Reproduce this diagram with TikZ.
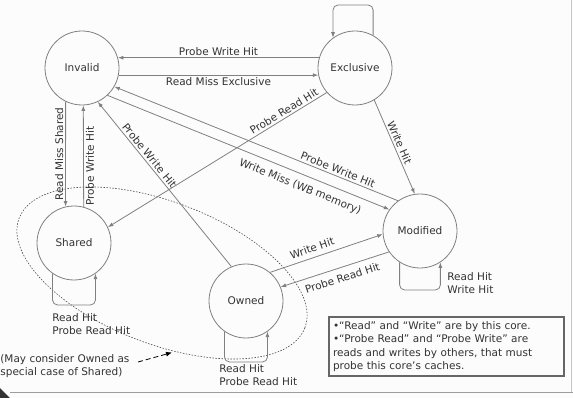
\documentclass[tikz,border=0pt]{standalone}
\usepackage{fontspec}
\setmainfont{DejaVu Sans}
\usepackage{xcolor}
\usepackage{tikz}
\usetikzlibrary{arrows.meta}

\definecolor{ink}{RGB}{51,51,51}
\definecolor{wire}{RGB}{128,128,128}
\definecolor{paper}{RGB}{252,252,252}

\begin{document}
\begin{tikzpicture}[x=1pt, y=-1pt, line width=0.8pt,
    font=\fontsize{10.5}{13}\selectfont, text=ink,
    cachestate/.style={circle, draw=wire, minimum size=74pt, inner sep=0pt},
    transit/.style={draw=wire, -{Latex[length=5.5pt, width=4pt]}},
    selfloop/.style={transit, rounded corners=5pt},
    lbl/.style={inner sep=2pt}]
  \fill[paper] (0,0) rectangle (573,398);
  \useasboundingbox (0,0) rectangle (573,398);
  \draw[black!22] (571.5,0) -- (571.5,392);
  \draw[black!38, line width=1.6pt] (10,392.5) -- (573,392.5);
  \fill[ink] (0,388) -- (10,398) -- (0,398) -- cycle;

  \coordinate (excloop) at (355,5);
  \coordinate (shrloop) at (74,305);
  \coordinate (ownloop) at (246,362);
  \coordinate (modloop) at (420,290);
  \coordinate (tail) at (138,362);
  \coordinate (tip) at (172,352.5);

  \node[cachestate] (inv) at (82,68) {Invalid};
  \node[cachestate] (exc) at (355,68) {Exclusive};
  \node[cachestate] (shr) at (74,243) {Shared};
  \node[cachestate] (own) at (246,301) {Owned};
  \node[cachestate] (mod) at (420,231) {Modified};

  \draw[black!70, line width=0.6pt, dash pattern=on 1.5pt off 1.5pt,
    rotate around={-21:(162,273)}] (162,273) ellipse [x radius=153, y radius=71];

  \draw[transit] (exc.164) -- node[lbl, above] {Probe Write Hit} (inv.16);
  \draw[transit] (inv.-11) -- node[lbl, below] {Read Miss Exclusive} (exc.191);
  \draw[transit] (inv.244) -- node[lbl, rotate=90, anchor=south] {Read Miss Shared} (shr.103);
  \draw[transit] (shr.75) -- node[lbl, rotate=90, anchor=north, pos=0.4] {Probe Write Hit} (inv.-88);
  \draw[transit] (own.113) -- node[lbl, sloped, above, pos=0.65] {Probe Write Hit} (inv.-65);
  \draw[transit] (exc.221) -- node[lbl, sloped, above, pos=0.18] {Probe Read Hit} (shr.25);
  \draw[transit] (mod.126) -- node[lbl, sloped, above, pos=0.22] {Probe Write Hit} (inv.-30);
  \draw[transit] (inv.-47) -- node[lbl, sloped, below=5pt, pos=0.7] {Write Miss (WB memory)} (mod.145);
  \draw[transit] (exc.-59) -- node[lbl, sloped, above, pos=0.48] {Write Hit} (mod.98);
  \draw[transit] (own.50) -- node[lbl, sloped, above=3pt, pos=0.4] {Write Hit} (mod.185);
  \draw[transit] (mod.214) -- node[lbl, sloped, below=4pt, pos=0.46] {Probe Read Hit} (own.22);

  \draw[selfloop] (exc.61) |- (excloop) -| (exc.126);
  \draw[selfloop] (shr.235) |- (shrloop) -| (shr.-55);
  \draw[selfloop] (own.235) |- (ownloop) -| (own.-55);
  \draw[selfloop] (mod.237) |- (modloop) -| (mod.-57);

  \node[lbl, anchor=west, align=left] (shrhits) at (50,324.5) {Read Hit\\Probe Read Hit};
  \node[lbl, anchor=west, align=left] (ownhits) at (217,375.5) {Read Hit\\Probe Read Hit};
  \node[lbl, anchor=west, align=left] (modhits) at (445,283.5) {Read Hit\\Write Hit};

  \node[lbl, anchor=west, align=left] (ownednote) at (-2,366.5) {(May consider Owned as\\special case of Shared)};
  \draw[black, dash pattern=on 5pt off 3pt, -{Latex[length=6pt, width=5pt]}] (tail) -- (tip);

  \node[draw=black!60, line width=1.1pt, text width=227pt, inner xsep=4pt,
    minimum height=59pt, align=left, font=\fontsize{10.5}{13.3}\selectfont]
    (legend) at (446.5,346.5)
    {•“Read” and “Write” are by this core.\\
     •“Probe Read” and “Probe Write” are\\
     reads and writes by others, that must\\
     probe this core’s caches.};
\end{tikzpicture}
\end{document}
